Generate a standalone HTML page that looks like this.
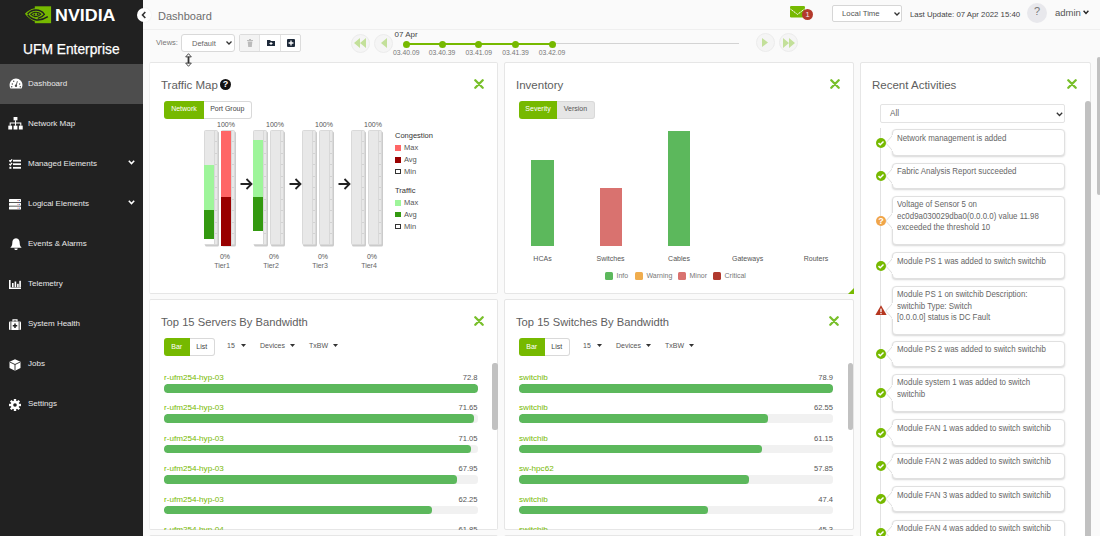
<!DOCTYPE html>
<html><head><meta charset="utf-8">
<style>
*{box-sizing:border-box;margin:0;padding:0}
html,body{width:1100px;height:536px;overflow:hidden;background:#fafafa;font-family:"Liberation Sans",sans-serif;color:#333}
.a{position:absolute}
#side{left:0;top:0;width:143px;height:536px;background:#212121}
.nav{position:absolute;left:0;width:143px;height:40px;color:#e8e8e8;font-size:8px}
.nav .t{position:absolute;left:28px;top:15px;line-height:10px;white-space:nowrap}
.nav svg{position:absolute;left:9px;top:14.5px}
.nav .chev{position:absolute;left:128px;top:16px}
#hdr{left:143px;top:0;width:957px;height:30px;background:#fafafa;border-bottom:1px solid #efefef}
.panel{position:absolute;background:#fff;border:1px solid #e6e6e6;border-radius:2px;overflow:hidden}
.ptitle{position:absolute;left:11px;top:15px;font-size:11.5px;color:#555;white-space:nowrap;line-height:14px}
.close{position:absolute;top:16px}
.btng{position:absolute;height:18px;display:flex;font-size:7px}
.btng div{height:100%;display:flex;align-items:center;justify-content:center;background:#fff;border:1px solid #d9d9d9;border-left:none;border-radius:0 3px 3px 0}
.btng div.on{background:#76b900;color:#fff;border:none;border-radius:3px 0 0 3px}

.col{position:absolute;top:130px;width:14px;height:114.5px;background:#e8e8e8;border:1px solid #d9d9d9;border-radius:1.5px;box-shadow:1px 1.5px 0 #cbcbcb}
.col .dv{position:absolute;left:9px;top:0;width:1px;height:100%;background:#d8d8d8}
.col .tk{position:absolute;left:10px;width:2px;height:1px;background:#d2d2d2}
.col .f{position:absolute;left:-1px;width:9.8px}
.pct{position:absolute;font-size:7px;color:#555;line-height:8px;width:30px;text-align:center}
.leg{position:absolute;left:395px;font-size:7.5px;color:#555;line-height:9px;white-space:nowrap}
.sw{position:absolute;left:395px;width:6px;height:5.5px}

.card{position:absolute;left:891.5px;width:173px;background:#fff;border:1px solid #e0e0e0;border-radius:4px;box-shadow:0 1px 2px rgba(0,0,0,0.16);font-size:8.5px;color:#666;line-height:11.6px;padding:2.5px 4px 10.3px 4.2px;white-space:nowrap}
.card span{display:block;transform:scaleX(0.93);transform-origin:0 0}
.ic{position:absolute;left:876px;width:10px;height:10px}

.bname{position:absolute;font-size:8.1px;color:#76b900;line-height:9px;white-space:nowrap}
.bval{position:absolute;font-size:7.6px;color:#555;line-height:9px;text-align:right;width:60px}
.track{position:absolute;height:8.5px;border-radius:3.5px;background:#f1f1f1;overflow:hidden}
.track div{position:absolute;left:0;top:0;height:100%;border-radius:3.5px;background:#5cb85c}
.dd{position:absolute;top:341px;font-size:7px;color:#555;line-height:9px;white-space:nowrap}
.dd svg{position:absolute;top:3px}
</style></head><body>
<div id="side" class="a">
<svg class="a" style="left:24px;top:5.5px" width="28" height="18" viewBox="0 0 28 18">
 <rect x="10.8" y="0.3" width="16.3" height="16.9" fill="#76b900"/>
 <path d="M10.8,2.2 C6.5,3 3,5.2 0.9,7.8 C3,10.6 6.5,14 10.8,15.6 Z" fill="#76b900"/>
 <path d="M3.6,8 C5.8,5.4 8.8,4 12,4 C15.6,4 18.6,5.8 20.4,8.3 C18.8,10.4 16.6,11.7 13.8,12.4" stroke="#212121" stroke-width="1.3" fill="none"/>
 <path d="M3.8,8.7 C5.8,11.4 8.8,13.4 12.5,13.9 C16.2,14.3 20.2,13 23.8,10.6" stroke="#212121" stroke-width="1.5" fill="none"/>
 <path d="M6.8,8.4 C8.2,6.9 10,6.2 12,6.2 C14,6.2 15.8,7.1 16.8,8.2 C15.5,9.7 13.8,10.5 12,10.6 C10,10.7 8.2,9.8 6.8,8.4 Z" stroke="#212121" stroke-width="1.1" fill="none"/>
 <path d="M9.2,8.6 L11.2,7.6 L11.2,9.8 Z" fill="#212121"/>
 <circle cx="13.6" cy="8.2" r="0.9" fill="#212121"/>
</svg>
<div class="a" style="left:55px;top:7px;font-size:15.8px;font-weight:bold;color:#fff;line-height:18px;transform:scaleX(1.13);transform-origin:left top">NVIDIA</div>
<div class="a" style="left:23px;top:40.5px;font-size:13.8px;color:#fff;-webkit-text-stroke:0.25px #fff;line-height:17px;white-space:nowrap">UFM Enterprise</div>
<div class="a" style="left:0;top:64px;width:143px;height:40px;background:#4d4d4d"></div>
<div class="nav" style="top:64px"><svg width="14" height="11" viewBox="0 0 15 12" style="left:8.5px;top:13.5px"><path d="M7.5,0.5 C3.5,0.5 0.5,3.8 0.5,7.5 C0.5,9 0.9,10.3 1.5,11.5 L13.5,11.5 C14.1,10.3 14.5,9 14.5,7.5 C14.5,3.8 11.5,0.5 7.5,0.5 Z" fill="#fff"/><circle cx="7.5" cy="8.5" r="1.3" fill="#4d4d4d"/><path d="M7.5,8.5 L9,3.5" stroke="#4d4d4d" stroke-width="1"/><circle cx="3.5" cy="6.5" r="0.8" fill="#4d4d4d"/><circle cx="11.5" cy="6.5" r="0.8" fill="#4d4d4d"/><circle cx="5" cy="3.5" r="0.8" fill="#4d4d4d"/><circle cx="2.8" cy="9.5" r="0.8" fill="#4d4d4d"/><circle cx="12.2" cy="9.5" r="0.8" fill="#4d4d4d"/></svg><div class="t">Dashboard</div></div>
<div class="nav" style="top:104px"><svg width="15" height="12.5" viewBox="0 0 15 13" style="left:7.6px;top:13px"><rect x="5.5" y="0" width="4" height="3.5" fill="#fff"/><rect x="0" y="9" width="4" height="4" fill="#fff"/><rect x="5.5" y="9" width="4" height="4" fill="#fff"/><rect x="11" y="9" width="4" height="4" fill="#fff"/><path d="M7.5,3.5 V9 M2,9 V6.2 H13 V9" stroke="#fff" stroke-width="1.1" fill="none"/></svg><div class="t">Network Map</div></div>
<div class="nav" style="top:144px"><svg width="12" height="10" viewBox="0 0 12 10"><path d="M0.2,1.4 L1.3,2.5 L3.1,0.4" stroke="#fff" stroke-width="1.3" fill="none"/><path d="M0.2,4.9 L1.3,6 L3.1,3.9" stroke="#fff" stroke-width="1.3" fill="none"/><rect x="0.4" y="7.8" width="2" height="2" fill="#fff"/><rect x="4" y="0.8" width="8" height="1.8" fill="#fff"/><rect x="4" y="4.3" width="8" height="1.8" fill="#fff"/><rect x="4" y="7.9" width="8" height="1.8" fill="#fff"/></svg><div class="t">Managed Elements</div><svg class="chev" width="7" height="5" viewBox="0 0 7 5"><path d="M0.8,0.8 L3.5,3.6 L6.2,0.8" stroke="#fff" stroke-width="1.5" fill="none"/></svg></div>
<div class="nav" style="top:184px"><svg width="12" height="11" viewBox="0 0 12 11"><rect x="0" y="0" width="12" height="3" rx="0.6" fill="#fff"/><rect x="0" y="3.8" width="12" height="3" rx="0.6" fill="#fff"/><rect x="0" y="7.6" width="12" height="3" rx="0.6" fill="#fff"/><rect x="8.6" y="1.1" width="0.9" height="0.9" fill="#c33"/><rect x="10" y="1.1" width="0.9" height="0.9" fill="#36c"/><rect x="8.6" y="4.9" width="0.9" height="0.9" fill="#c33"/><rect x="10" y="4.9" width="0.9" height="0.9" fill="#36c"/><rect x="8.6" y="8.7" width="0.9" height="0.9" fill="#c33"/><rect x="10" y="8.7" width="0.9" height="0.9" fill="#36c"/></svg><div class="t">Logical Elements</div><svg class="chev" width="7" height="5" viewBox="0 0 7 5"><path d="M0.8,0.8 L3.5,3.6 L6.2,0.8" stroke="#fff" stroke-width="1.5" fill="none"/></svg></div>
<div class="nav" style="top:224px"><svg width="12" height="12" viewBox="0 0 12 12" style="left:9.5px;top:13.5px"><path d="M6,0.3 C3.2,0.6 2.3,2.6 2.3,5 C2.3,7.6 1.2,8.6 0.3,9.8 L11.7,9.8 C10.8,8.6 9.7,7.6 9.7,5 C9.7,2.6 8.8,0.6 6,0.3 Z" fill="#fff"/><path d="M4.3,10.4 A1.7,1.7 0 0 0 7.7,10.4 Z" fill="#fff"/></svg><div class="t">Events &amp; Alarms</div></div>
<div class="nav" style="top:264px"><svg width="12" height="9" viewBox="0 0 12 9" style="left:9px;top:15.5px"><path d="M0.8,0 V8.2 H12" stroke="#fff" stroke-width="1.6" fill="none"/><rect x="3" y="3" width="1.6" height="4.2" fill="#fff"/><rect x="5.6" y="1.5" width="1.6" height="5.7" fill="#fff"/><rect x="8.1" y="3.8" width="1.6" height="3.4" fill="#fff"/><rect x="10.3" y="0.8" width="1.6" height="6.4" fill="#fff"/></svg><div class="t">Telemetry</div></div>
<div class="nav" style="top:304px"><svg width="12" height="11" viewBox="0 0 12 11"><rect x="0" y="2.5" width="12" height="8.5" rx="1" fill="#fff"/><path d="M4,2.5 V0.8 H8 V2.5" stroke="#fff" stroke-width="1.2" fill="none"/><path d="M6,4.5 V9 M3.8,6.75 H8.2" stroke="#212121" stroke-width="1.5"/><rect x="1.5" y="2.5" width="0.8" height="8.5" fill="#212121"/><rect x="9.7" y="2.5" width="0.8" height="8.5" fill="#212121"/></svg><div class="t">System Health</div></div>
<div class="nav" style="top:344px"><svg width="12" height="12" viewBox="0 0 12 12"><path d="M6,0.3 L11.5,2.8 V9 L6,11.7 L0.5,9 V2.8 Z" fill="#fff"/><path d="M0.8,3 L6,5.5 L11.2,3 M6,5.5 V11.5" stroke="#212121" stroke-width="0.9" fill="none"/></svg><div class="t">Jobs</div></div>
<div class="nav" style="top:384px"><svg width="12" height="12" viewBox="0 0 12 12"><g fill="#fff"><circle cx="6" cy="6" r="4.2"/><rect x="4.8" y="0" width="2.4" height="12"/><rect x="0" y="4.8" width="12" height="2.4"/><rect x="4.8" y="0" width="2.4" height="12" transform="rotate(45 6 6)"/><rect x="4.8" y="0" width="2.4" height="12" transform="rotate(-45 6 6)"/></g><circle cx="6" cy="6" r="1.8" fill="#212121"/></svg><div class="t">Settings</div></div>
</div>
<div id="hdr" class="a">
<div class="a" style="left:15px;top:10px;font-size:11px;color:#6e6e6e;line-height:13px">Dashboard</div>
<svg class="a" style="left:647px;top:6px" width="16" height="12" viewBox="0 0 16 12"><rect x="0" y="0" width="15" height="11.5" rx="1.2" fill="#76b900"/><path d="M0.4,3 L7.5,8.4 L14.6,3" stroke="#fff" stroke-width="1" stroke-dasharray="1.6,0.5" fill="none"/></svg>
<div class="a" style="left:659px;top:9px;width:11px;height:11px;border-radius:50%;background:#b3392b;color:#f0e8f0;font-size:7.5px;line-height:11px;text-align:center">1</div>
<div class="a" style="left:689px;top:5px;width:70px;height:17px;background:#fff;border:1px solid #d6d6d6;border-radius:2px;font-size:7.8px;color:#555;line-height:15px;padding-left:9px">Local Time<svg style="position:absolute;left:61px;top:6px" width="6" height="4" viewBox="0 0 6 4"><path d="M0.5,0.5 L3,3 L5.5,0.5" stroke="#333" stroke-width="1.3" fill="none"/></svg></div>
<div class="a" style="left:767px;top:10px;font-size:7.8px;color:#444;line-height:10px;white-space:nowrap">Last Update: 07 Apr 2022 15:40</div>
<div class="a" style="left:884px;top:3px;width:20px;height:20px;border-radius:50%;background:#e8e8ec;color:#777;font-size:11px;line-height:17px;text-align:center">?</div>
<div class="a" style="left:912px;top:7px;font-size:9.5px;color:#555;line-height:11px">admin</div>
<svg class="a" style="left:939.5px;top:10px" width="6" height="5" viewBox="0 0 6 5"><path d="M0.6,0.8 L3,3.4 L5.4,0.8" stroke="#222" stroke-width="1.4" fill="none"/></svg>
</div>
<div class="a" style="left:137px;top:8px;width:14px;height:14px;border-radius:50%;background:#fff;box-shadow:0 0 2px rgba(0,0,0,0.08)"></div><svg class="a" style="left:140px;top:11px" width="8" height="8" viewBox="0 0 8 8"><path d="M5.3,1 L2.5,4 L5.3,7" stroke="#333" stroke-width="1.6" fill="none"/></svg>

<div class="a" style="left:156px;top:38px;font-size:7.5px;color:#777;line-height:9px">Views:</div>
<div class="a" style="left:181px;top:34px;width:54px;height:18px;background:#fff;border:1px solid #d9d9d9;border-radius:3px;font-size:7.5px;color:#666;line-height:18px;padding-left:10px">Default<svg style="position:absolute;left:44px;top:6.3px" width="6" height="4" viewBox="0 0 6 4"><path d="M0.5,0.5 L3,3 L5.5,0.5" stroke="#333" stroke-width="1.3" fill="none"/></svg></div>
<div class="a" style="left:239px;top:34px;width:62px;height:18px;border:1px solid #dcdcdc;border-radius:2px;background:#fff;overflow:hidden">
 <div class="a" style="left:0;top:0;width:20px;height:16px;background:#f3f3f3;border-right:1px solid #e2e2e2"></div>
 <div class="a" style="left:20px;top:0;width:21px;height:16px;border-right:1px solid #e2e2e2"></div>
 <svg class="a" style="left:7px;top:4px" width="6" height="8" viewBox="0 0 6 8"><rect x="0" y="1" width="6" height="1" fill="#bbb"/><rect x="2" y="0" width="2" height="1" fill="#bbb"/><path d="M0.7,2.4 H5.3 L4.8,8 H1.2 Z" fill="#bbb"/></svg>
 <svg class="a" style="left:27px;top:5px" width="8" height="6" viewBox="0 0 8 6"><path d="M0,0 H3 L4,1 H8 V6 H0 Z" fill="#1e2a3a"/><path d="M4,2 V5 M2.5,3.5 H5.5" stroke="#fff" stroke-width="1"/></svg>
 <svg class="a" style="left:47px;top:4px" width="8" height="8" viewBox="0 0 8 8"><rect x="0" y="0" width="8" height="8" rx="1" fill="#1e2a3a"/><path d="M4,1.6 V6.4 M1.6,4 H6.4" stroke="#fff" stroke-width="1.3"/></svg>
</div>
<svg class="a" style="left:184.5px;top:52.5px;z-index:20" width="7" height="14" viewBox="0 0 7 14"><path d="M3.5,0.7 L6.3,3.9 H0.7 Z" fill="#fff" stroke="#222" stroke-width="0.8" stroke-linejoin="round"/><path d="M3.5,13.3 L6.3,10.1 H0.7 Z" fill="#fff" stroke="#222" stroke-width="0.8" stroke-linejoin="round"/><rect x="2.6" y="3.6" width="1.8" height="6.8" fill="#333"/></svg>
<!-- timeline -->
<div class="a" style="left:351px;top:33.5px;width:19px;height:19px;border-radius:50%;border:1px solid #ececec;background:#f5f5f5"></div>
<svg class="a" style="left:354px;top:38px" width="13" height="10" viewBox="0 0 13 10"><path d="M0,5 L6,0 V10 Z M6,5 L12,0 V10 Z" fill="#c3e09a"/></svg>
<div class="a" style="left:374px;top:33.5px;width:19px;height:19px;border-radius:50%;border:1px solid #ececec;background:#f5f5f5"></div>
<svg class="a" style="left:381px;top:38px" width="6" height="10" viewBox="0 0 6 10"><path d="M0,5 L6,0 V10 Z" fill="#c3e09a"/></svg>
<div class="a" style="left:552px;top:42.5px;width:187px;height:1.5px;background:#d3d3d3"></div>
<div class="a" style="left:406px;top:42.5px;width:146px;height:2px;background:#76b900"></div>
<div class="a" style="left:755.5px;top:32.5px;width:19px;height:19px;border-radius:50%;border:1px solid #ececec;background:#f5f5f5"></div>
<svg class="a" style="left:762px;top:38px" width="6" height="9" viewBox="0 0 6 9"><path d="M6,4.5 L0,0 V9 Z" fill="#c3e09a"/></svg>
<div class="a" style="left:778.5px;top:32.5px;width:19px;height:19px;border-radius:50%;border:1px solid #ececec;background:#f5f5f5"></div>
<svg class="a" style="left:783px;top:38px" width="12" height="10" viewBox="0 0 12 10"><path d="M6,5 L0,0 V10 Z M12,5 L6,0 V10 Z" fill="#c3e09a"/></svg>
<div class="a" style="left:394.5px;top:30px;font-size:8px;color:#444;line-height:10px">07 Apr</div>
<div class="a" style="left:402.8px;top:40.7px;width:7px;height:7px;border-radius:50%;background:#76b900"></div>
<div class="a" style="left:386.3px;top:48px;width:40px;text-align:center;font-size:6.8px;color:#777;line-height:9px">03.40.09</div>
<div class="a" style="left:438.5px;top:40.7px;width:7px;height:7px;border-radius:50%;background:#76b900"></div>
<div class="a" style="left:422px;top:48px;width:40px;text-align:center;font-size:6.8px;color:#777;line-height:9px">03.40.39</div>
<div class="a" style="left:475.3px;top:40.7px;width:7px;height:7px;border-radius:50%;background:#76b900"></div>
<div class="a" style="left:458.8px;top:48px;width:40px;text-align:center;font-size:6.8px;color:#777;line-height:9px">03.41.09</div>
<div class="a" style="left:512.0px;top:40.7px;width:7px;height:7px;border-radius:50%;background:#76b900"></div>
<div class="a" style="left:495.5px;top:48px;width:40px;text-align:center;font-size:6.8px;color:#777;line-height:9px">03.41.39</div>
<div class="a" style="left:548.5px;top:40.7px;width:7px;height:7px;border-radius:50%;background:#76b900"></div>
<div class="a" style="left:532px;top:48px;width:40px;text-align:center;font-size:6.8px;color:#777;line-height:9px">03.42.09</div>

<div class="panel" style="left:149px;top:62px;width:349px;height:232px;border-left-color:#f0f0f0"></div>
<div class="a" style="left:161px;top:78px;font-size:11.5px;color:#5e5e5e;line-height:14px;white-space:nowrap">Traffic Map</div>
<div class="a" style="left:220px;top:79px;width:11px;height:11px;border-radius:50%;background:#111;color:#fff;font-size:9px;font-weight:bold;line-height:11px;text-align:center">?</div>
<svg class="a" style="left:474px;top:79px" width="10" height="10" viewBox="0 0 10 10"><path d="M1.3,1.3 L8.7,8.7 M8.7,1.3 L1.3,8.7" stroke="#78bf2a" stroke-width="2.3" stroke-linecap="round"/></svg>
<div class="btng" style="left:164px;top:101px;width:88px;height:18px"><div class="on" style="width:40px;padding-bottom:3px">Network</div><div style="width:47.5px;color:#444;padding-bottom:3px">Port Group</div></div>
<div class="col" style="left:204px"><div class="dv"></div><div class="tk" style="top:10.45px"></div><div class="tk" style="top:21.90px"></div><div class="tk" style="top:33.35px"></div><div class="tk" style="top:44.80px"></div><div class="tk" style="top:56.25px"></div><div class="tk" style="top:67.70px"></div><div class="tk" style="top:79.15px"></div><div class="tk" style="top:90.60px"></div><div class="tk" style="top:102.05px"></div><div class="f" style="top:34px;height:45px;background:#9ef59a"></div><div class="f" style="top:79px;height:29px;background:#339910"></div><div class="f" style="top:108px;height:5px;background:#fff"></div></div>
<div class="col" style="left:221px"><div class="dv"></div><div class="tk" style="top:10.45px"></div><div class="tk" style="top:21.90px"></div><div class="tk" style="top:33.35px"></div><div class="tk" style="top:44.80px"></div><div class="tk" style="top:56.25px"></div><div class="tk" style="top:67.70px"></div><div class="tk" style="top:79.15px"></div><div class="tk" style="top:90.60px"></div><div class="tk" style="top:102.05px"></div><div class="f" style="top:0px;height:66px;background:#ff6666"></div><div class="f" style="top:66px;height:49px;background:#990000"></div></div>
<div class="col" style="left:253px"><div class="dv"></div><div class="tk" style="top:10.45px"></div><div class="tk" style="top:21.90px"></div><div class="tk" style="top:33.35px"></div><div class="tk" style="top:44.80px"></div><div class="tk" style="top:56.25px"></div><div class="tk" style="top:67.70px"></div><div class="tk" style="top:79.15px"></div><div class="tk" style="top:90.60px"></div><div class="tk" style="top:102.05px"></div><div class="f" style="top:9px;height:57px;background:#9ef59a"></div><div class="f" style="top:66px;height:34px;background:#339910"></div><div class="f" style="top:100px;height:13px;background:#fff"></div></div>
<div class="col" style="left:270px"><div class="dv"></div><div class="tk" style="top:10.45px"></div><div class="tk" style="top:21.90px"></div><div class="tk" style="top:33.35px"></div><div class="tk" style="top:44.80px"></div><div class="tk" style="top:56.25px"></div><div class="tk" style="top:67.70px"></div><div class="tk" style="top:79.15px"></div><div class="tk" style="top:90.60px"></div><div class="tk" style="top:102.05px"></div></div>
<div class="col" style="left:302px"><div class="dv"></div><div class="tk" style="top:10.45px"></div><div class="tk" style="top:21.90px"></div><div class="tk" style="top:33.35px"></div><div class="tk" style="top:44.80px"></div><div class="tk" style="top:56.25px"></div><div class="tk" style="top:67.70px"></div><div class="tk" style="top:79.15px"></div><div class="tk" style="top:90.60px"></div><div class="tk" style="top:102.05px"></div></div><div class="col" style="left:319px"><div class="dv"></div><div class="tk" style="top:10.45px"></div><div class="tk" style="top:21.90px"></div><div class="tk" style="top:33.35px"></div><div class="tk" style="top:44.80px"></div><div class="tk" style="top:56.25px"></div><div class="tk" style="top:67.70px"></div><div class="tk" style="top:79.15px"></div><div class="tk" style="top:90.60px"></div><div class="tk" style="top:102.05px"></div></div>
<div class="col" style="left:351px"><div class="dv"></div><div class="tk" style="top:10.45px"></div><div class="tk" style="top:21.90px"></div><div class="tk" style="top:33.35px"></div><div class="tk" style="top:44.80px"></div><div class="tk" style="top:56.25px"></div><div class="tk" style="top:67.70px"></div><div class="tk" style="top:79.15px"></div><div class="tk" style="top:90.60px"></div><div class="tk" style="top:102.05px"></div></div><div class="col" style="left:368px"><div class="dv"></div><div class="tk" style="top:10.45px"></div><div class="tk" style="top:21.90px"></div><div class="tk" style="top:33.35px"></div><div class="tk" style="top:44.80px"></div><div class="tk" style="top:56.25px"></div><div class="tk" style="top:67.70px"></div><div class="tk" style="top:79.15px"></div><div class="tk" style="top:90.60px"></div><div class="tk" style="top:102.05px"></div></div>
<div class="pct" style="left:211px;top:121px">100%</div><div class="pct" style="left:210px;top:253px">0%</div><div class="pct" style="left:207px;top:262px;color:#666">Tier1</div>
<div class="pct" style="left:260px;top:121px">100%</div><div class="pct" style="left:259px;top:253px">0%</div><div class="pct" style="left:256px;top:262px;color:#666">Tier2</div>
<div class="pct" style="left:309px;top:121px">100%</div><div class="pct" style="left:308px;top:253px">0%</div><div class="pct" style="left:305px;top:262px;color:#666">Tier3</div>
<div class="pct" style="left:358px;top:121px">100%</div><div class="pct" style="left:357px;top:253px">0%</div><div class="pct" style="left:354px;top:262px;color:#666">Tier4</div>
<svg class="a" style="left:240px;top:178px" width="13" height="12" viewBox="0 0 13 12"><path d="M0.5,6 H11.5 M6.5,1 L11.5,6 L6.5,11" stroke="#222" stroke-width="1.8" fill="none"/></svg>
<svg class="a" style="left:289px;top:178px" width="13" height="12" viewBox="0 0 13 12"><path d="M0.5,6 H11.5 M6.5,1 L11.5,6 L6.5,11" stroke="#222" stroke-width="1.8" fill="none"/></svg>
<svg class="a" style="left:338px;top:178px" width="13" height="12" viewBox="0 0 13 12"><path d="M0.5,6 H11.5 M6.5,1 L11.5,6 L6.5,11" stroke="#222" stroke-width="1.8" fill="none"/></svg>
<div class="leg" style="top:131px;color:#333">Congestion</div>
<div class="sw" style="top:145px;background:#ff6666"></div><div class="leg" style="left:404px;top:143px">Max</div>
<div class="sw" style="top:157px;background:#990000"></div><div class="leg" style="left:404px;top:155px">Avg</div>
<div class="sw" style="top:168.5px;border:1px solid #333;background:#fff"></div><div class="leg" style="left:404px;top:167px">Min</div>
<div class="leg" style="top:186px;color:#333">Traffic</div>
<div class="sw" style="top:200px;background:#9ef59a"></div><div class="leg" style="left:404px;top:198px">Max</div>
<div class="sw" style="top:211.5px;background:#339910"></div><div class="leg" style="left:404px;top:210px">Avg</div>
<div class="sw" style="top:223.5px;border:1px solid #333;background:#fff"></div><div class="leg" style="left:404px;top:222px">Min</div>
<div class="panel" style="left:504px;top:62px;width:350px;height:232px"></div>
<div class="a" style="left:516px;top:78px;font-size:11.5px;color:#5e5e5e;line-height:14px;white-space:nowrap">Inventory</div>
<svg class="a" style="left:830px;top:79px" width="10" height="10" viewBox="0 0 10 10"><path d="M1.3,1.3 L8.7,8.7 M8.7,1.3 L1.3,8.7" stroke="#78bf2a" stroke-width="2.3" stroke-linecap="round"/></svg>
<div class="btng" style="left:519px;top:101px;width:76px;height:18px;border-color:#c9c9c9"><div class="on" style="width:38px;padding-bottom:3px">Severity</div><div style="width:38px;color:#555;background:#e6e6e6;padding-bottom:3px">Version</div></div>
<div class="a" style="left:531px;top:159.5px;width:23px;height:86.5px;background:#5cb85c"></div>
<div class="a" style="left:600px;top:188px;width:22px;height:58px;background:#d9726f"></div>
<div class="a" style="left:668px;top:130.5px;width:22px;height:115.5px;background:#5cb85c"></div>
<div class="a" style="left:512.5px;top:254px;width:60px;text-align:center;font-size:7px;color:#555;line-height:9px">HCAs</div>
<div class="a" style="left:580.6px;top:254px;width:60px;text-align:center;font-size:7px;color:#555;line-height:9px">Switches</div>
<div class="a" style="left:649px;top:254px;width:60px;text-align:center;font-size:7px;color:#555;line-height:9px">Cables</div>
<div class="a" style="left:717.6px;top:254px;width:60px;text-align:center;font-size:7px;color:#555;line-height:9px">Gateways</div>
<div class="a" style="left:786px;top:254px;width:60px;text-align:center;font-size:7px;color:#555;line-height:9px">Routers</div>
<div class="a" style="left:605px;top:272px;width:8px;height:8px;border-radius:1.5px;background:#5cb85c"></div><div class="a" style="left:616.5px;top:271px;font-size:7px;color:#777;line-height:9px">Info</div>
<div class="a" style="left:635px;top:272px;width:8px;height:8px;border-radius:1.5px;background:#f0ad4e"></div><div class="a" style="left:646.5px;top:271px;font-size:7px;color:#777;line-height:9px">Warning</div>
<div class="a" style="left:678px;top:272px;width:8px;height:8px;border-radius:1.5px;background:#d9726f"></div><div class="a" style="left:689.5px;top:271px;font-size:7px;color:#777;line-height:9px">Minor</div>
<div class="a" style="left:713px;top:272px;width:8px;height:8px;border-radius:1.5px;background:#b0392e"></div><div class="a" style="left:724.5px;top:271px;font-size:7px;color:#777;line-height:9px">Critical</div>
<svg class="a" style="left:848px;top:288px" width="6" height="6" viewBox="0 0 6 6"><path d="M6,0 V6 H0 Z" fill="#76b900"/></svg>
<div class="panel" style="left:860px;top:62px;width:231px;height:480px"></div>
<div class="a" style="left:872px;top:78px;font-size:11.5px;color:#5e5e5e;line-height:14px;white-space:nowrap">Recent Activities</div>
<svg class="a" style="left:1066.5px;top:79px" width="10" height="10" viewBox="0 0 10 10"><path d="M1.3,1.3 L8.7,8.7 M8.7,1.3 L1.3,8.7" stroke="#78bf2a" stroke-width="2.3" stroke-linecap="round"/></svg>
<div class="a" style="left:880px;top:104px;width:185px;height:19px;border:1px solid #e3e3e3;border-radius:2px;background:#fff;font-size:8.2px;color:#666;line-height:17px;padding-left:9px">All<svg style="position:absolute;left:174.5px;top:6.5px" width="7" height="5" viewBox="0 0 7 5"><path d="M0.8,0.8 L3.5,3.5 L6.2,0.8" stroke="#333" stroke-width="1.3" fill="none"/></svg></div>
<div class="a" style="left:880px;top:128px;width:1px;height:410px;background:#e2e2e2"></div>
<div class="a" style="left:1084.5px;top:101px;width:6px;height:440px;border-radius:3px;background:#c1c1c1"></div>
<div class="a" style="left:1097px;top:57px;width:4px;height:138px;border-radius:2px;background:#c1c1c1"></div>
<div class="card" style="top:129.2px"><span>Network management is added</span></div>
<svg class="a" style="left:884px;top:133.5px" width="9" height="18" viewBox="0 0 9 18"><path d="M8.5,1.5 L1.8,9 L8.5,16.5" fill="#fff" stroke="#dadada" stroke-width="0.9"/><rect x="8" y="1" width="1" height="16" fill="#fff"/></svg>
<svg class="ic" style="top:137.5px" viewBox="0 0 10 10"><circle cx="5" cy="5" r="5" fill="#76b900"/><path d="M2.5,5.1 L4.2,6.8 L7.5,3.5" stroke="#fff" stroke-width="1.5" fill="none"/></svg>
<div class="card" style="top:162.5px"><span>Fabric Analysis Report succeeded</span></div>
<svg class="a" style="left:884px;top:166.8px" width="9" height="18" viewBox="0 0 9 18"><path d="M8.5,1.5 L1.8,9 L8.5,16.5" fill="#fff" stroke="#dadada" stroke-width="0.9"/><rect x="8" y="1" width="1" height="16" fill="#fff"/></svg>
<svg class="ic" style="top:170.8px" viewBox="0 0 10 10"><circle cx="5" cy="5" r="5" fill="#76b900"/><path d="M2.5,5.1 L4.2,6.8 L7.5,3.5" stroke="#fff" stroke-width="1.5" fill="none"/></svg>
<div class="card" style="top:195.5px"><span>Voltage of Sensor 5 on<br>ec0d9a030029dba0(0.0.0.0) value 11.98<br>exceeded the threshold 10</span></div>
<svg class="a" style="left:884px;top:211.6px" width="9" height="18" viewBox="0 0 9 18"><path d="M8.5,1.5 L1.8,9 L8.5,16.5" fill="#fff" stroke="#dadada" stroke-width="0.9"/><rect x="8" y="1" width="1" height="16" fill="#fff"/></svg>
<svg class="ic" style="top:215.6px" viewBox="0 0 10 10"><circle cx="5" cy="5" r="5" fill="#f0a54a"/><text x="5" y="8.4" text-anchor="middle" font-size="9" font-weight="bold" fill="#fff" font-family="Liberation Sans">?</text></svg>
<div class="card" style="top:252.3px"><span>Module PS 1 was added to switch switchib</span></div>
<svg class="a" style="left:884px;top:256.6px" width="9" height="18" viewBox="0 0 9 18"><path d="M8.5,1.5 L1.8,9 L8.5,16.5" fill="#fff" stroke="#dadada" stroke-width="0.9"/><rect x="8" y="1" width="1" height="16" fill="#fff"/></svg>
<svg class="ic" style="top:260.6px" viewBox="0 0 10 10"><circle cx="5" cy="5" r="5" fill="#76b900"/><path d="M2.5,5.1 L4.2,6.8 L7.5,3.5" stroke="#fff" stroke-width="1.5" fill="none"/></svg>
<div class="card" style="top:285.6px"><span>Module PS 1 on switchib Description:<br>switchib Type: Switch<br>[0.0.0.0] status is DC Fault</span></div>
<svg class="a" style="left:884px;top:301.7px" width="9" height="18" viewBox="0 0 9 18"><path d="M8.5,1.5 L1.8,9 L8.5,16.5" fill="#fff" stroke="#dadada" stroke-width="0.9"/><rect x="8" y="1" width="1" height="16" fill="#fff"/></svg>
<svg class="a" style="left:875.3px;top:304.6px" width="12" height="10.5" viewBox="0 0 12 10.5"><path d="M6,0.3 L11.8,10.3 H0.2 Z" fill="#b5361f"/><rect x="5.35" y="3.6" width="1.3" height="3.6" fill="#fff"/><rect x="5.35" y="8" width="1.3" height="1.2" fill="#fff"/></svg>
<div class="card" style="top:340.5px"><span>Module PS 2 was added to switch switchib</span></div>
<svg class="a" style="left:884px;top:344.8px" width="9" height="18" viewBox="0 0 9 18"><path d="M8.5,1.5 L1.8,9 L8.5,16.5" fill="#fff" stroke="#dadada" stroke-width="0.9"/><rect x="8" y="1" width="1" height="16" fill="#fff"/></svg>
<svg class="ic" style="top:348.8px" viewBox="0 0 10 10"><circle cx="5" cy="5" r="5" fill="#76b900"/><path d="M2.5,5.1 L4.2,6.8 L7.5,3.5" stroke="#fff" stroke-width="1.5" fill="none"/></svg>
<div class="card" style="top:373.8px"><span>Module system 1 was added to switch<br>switchib</span></div>
<svg class="a" style="left:884px;top:384.0px" width="9" height="18" viewBox="0 0 9 18"><path d="M8.5,1.5 L1.8,9 L8.5,16.5" fill="#fff" stroke="#dadada" stroke-width="0.9"/><rect x="8" y="1" width="1" height="16" fill="#fff"/></svg>
<svg class="ic" style="top:388.0px" viewBox="0 0 10 10"><circle cx="5" cy="5" r="5" fill="#76b900"/><path d="M2.5,5.1 L4.2,6.8 L7.5,3.5" stroke="#fff" stroke-width="1.5" fill="none"/></svg>
<div class="card" style="top:419.2px"><span>Module FAN 1 was added to switch switchib</span></div>
<svg class="a" style="left:884px;top:423.5px" width="9" height="18" viewBox="0 0 9 18"><path d="M8.5,1.5 L1.8,9 L8.5,16.5" fill="#fff" stroke="#dadada" stroke-width="0.9"/><rect x="8" y="1" width="1" height="16" fill="#fff"/></svg>
<svg class="ic" style="top:427.5px" viewBox="0 0 10 10"><circle cx="5" cy="5" r="5" fill="#76b900"/><path d="M2.5,5.1 L4.2,6.8 L7.5,3.5" stroke="#fff" stroke-width="1.5" fill="none"/></svg>
<div class="card" style="top:452.5px"><span>Module FAN 2 was added to switch switchib</span></div>
<svg class="a" style="left:884px;top:456.8px" width="9" height="18" viewBox="0 0 9 18"><path d="M8.5,1.5 L1.8,9 L8.5,16.5" fill="#fff" stroke="#dadada" stroke-width="0.9"/><rect x="8" y="1" width="1" height="16" fill="#fff"/></svg>
<svg class="ic" style="top:460.8px" viewBox="0 0 10 10"><circle cx="5" cy="5" r="5" fill="#76b900"/><path d="M2.5,5.1 L4.2,6.8 L7.5,3.5" stroke="#fff" stroke-width="1.5" fill="none"/></svg>
<div class="card" style="top:486px"><span>Module FAN 3 was added to switch switchib</span></div>
<svg class="a" style="left:884px;top:490.3px" width="9" height="18" viewBox="0 0 9 18"><path d="M8.5,1.5 L1.8,9 L8.5,16.5" fill="#fff" stroke="#dadada" stroke-width="0.9"/><rect x="8" y="1" width="1" height="16" fill="#fff"/></svg>
<svg class="ic" style="top:494.3px" viewBox="0 0 10 10"><circle cx="5" cy="5" r="5" fill="#76b900"/><path d="M2.5,5.1 L4.2,6.8 L7.5,3.5" stroke="#fff" stroke-width="1.5" fill="none"/></svg>
<div class="card" style="top:519.5px"><span>Module FAN 4 was added to switch switchib</span></div>
<svg class="a" style="left:884px;top:523.8px" width="9" height="18" viewBox="0 0 9 18"><path d="M8.5,1.5 L1.8,9 L8.5,16.5" fill="#fff" stroke="#dadada" stroke-width="0.9"/><rect x="8" y="1" width="1" height="16" fill="#fff"/></svg>
<svg class="ic" style="top:527.8px" viewBox="0 0 10 10"><circle cx="5" cy="5" r="5" fill="#76b900"/><path d="M2.5,5.1 L4.2,6.8 L7.5,3.5" stroke="#fff" stroke-width="1.5" fill="none"/></svg>
<div class="panel" style="left:149px;top:299px;width:349px;height:231px;border-left-color:#f0f0f0"></div>
<div class="a" style="left:161px;top:315px;font-size:11.2px;color:#5e5e5e;line-height:14px;white-space:nowrap">Top 15 Servers By Bandwidth</div>
<svg class="a" style="left:474px;top:316px" width="10" height="10" viewBox="0 0 10 10"><path d="M1.3,1.3 L8.7,8.7 M8.7,1.3 L1.3,8.7" stroke="#78bf2a" stroke-width="2.3" stroke-linecap="round"/></svg>
<div class="btng" style="left:164px;top:338px;width:51px;height:17.5px"><div class="on" style="width:25.5px">Bar</div><div style="width:25.5px;color:#444">List</div></div>
<div class="dd" style="left:227px">15<svg style="left:14px" width="5" height="3" viewBox="0 0 5 3"><path d="M0,0 H5 L2.5,3 Z" fill="#333"/></svg></div><div class="dd" style="left:260px">Devices<svg style="left:29.5px" width="5" height="3" viewBox="0 0 5 3"><path d="M0,0 H5 L2.5,3 Z" fill="#333"/></svg></div><div class="dd" style="left:309px">TxBW<svg style="left:23.5px" width="5" height="3" viewBox="0 0 5 3"><path d="M0,0 H5 L2.5,3 Z" fill="#333"/></svg></div>
<div class="a" style="left:150px;top:360px;width:347px;height:170px;overflow:hidden"><div class="bname" style="left:14px;top:13.0px">r-ufm254-hyp-03</div><div class="bval" style="left:267.5px;top:13.0px">72.8</div><div class="track" style="left:14px;top:24.0px;width:313.5px"><div style="width:313.5px"></div></div>
<div class="bname" style="left:14px;top:43.4px">r-ufm254-hyp-03</div><div class="bval" style="left:267.5px;top:43.4px">71.65</div><div class="track" style="left:14px;top:54.4px;width:313.5px"><div style="width:309.5px"></div></div>
<div class="bname" style="left:14px;top:73.8px">r-ufm254-hyp-03</div><div class="bval" style="left:267.5px;top:73.8px">71.05</div><div class="track" style="left:14px;top:84.8px;width:313.5px"><div style="width:306.5px"></div></div>
<div class="bname" style="left:14px;top:104.2px">r-ufm254-hyp-03</div><div class="bval" style="left:267.5px;top:104.2px">67.95</div><div class="track" style="left:14px;top:115.2px;width:313.5px"><div style="width:293px"></div></div>
<div class="bname" style="left:14px;top:134.6px">r-ufm254-hyp-03</div><div class="bval" style="left:267.5px;top:134.6px">62.25</div><div class="track" style="left:14px;top:145.6px;width:313.5px"><div style="width:268px"></div></div>
<div class="bname" style="left:14px;top:165.0px">r-ufm254-hyp-04</div><div class="bval" style="left:267.5px;top:165.0px">61.85</div><div class="track" style="left:14px;top:176.0px;width:313.5px"><div style="width:266px"></div></div>
</div>
<div class="a" style="left:492px;top:363px;width:5.5px;height:67px;border-radius:2.5px;background:#c1c1c1"></div>
<div class="panel" style="left:504px;top:299px;width:350px;height:231px"></div>
<div class="a" style="left:516px;top:315px;font-size:11.2px;color:#5e5e5e;line-height:14px;white-space:nowrap">Top 15 Switches By Bandwidth</div>
<svg class="a" style="left:829px;top:316px" width="10" height="10" viewBox="0 0 10 10"><path d="M1.3,1.3 L8.7,8.7 M8.7,1.3 L1.3,8.7" stroke="#78bf2a" stroke-width="2.3" stroke-linecap="round"/></svg>
<div class="btng" style="left:519px;top:338px;width:51px;height:17.5px"><div class="on" style="width:25.5px">Bar</div><div style="width:25.5px;color:#444">List</div></div>
<div class="dd" style="left:583px">15<svg style="left:14px" width="5" height="3" viewBox="0 0 5 3"><path d="M0,0 H5 L2.5,3 Z" fill="#333"/></svg></div><div class="dd" style="left:616px">Devices<svg style="left:29.5px" width="5" height="3" viewBox="0 0 5 3"><path d="M0,0 H5 L2.5,3 Z" fill="#333"/></svg></div><div class="dd" style="left:665px">TxBW<svg style="left:23.5px" width="5" height="3" viewBox="0 0 5 3"><path d="M0,0 H5 L2.5,3 Z" fill="#333"/></svg></div>
<div class="a" style="left:505px;top:360px;width:348px;height:170px;overflow:hidden"><div class="bname" style="left:14px;top:13.0px">switchib</div><div class="bval" style="left:268px;top:13.0px">78.9</div><div class="track" style="left:14px;top:24.0px;width:314px"><div style="width:314px"></div></div>
<div class="bname" style="left:14px;top:43.4px">switchib</div><div class="bval" style="left:268px;top:43.4px">62.55</div><div class="track" style="left:14px;top:54.4px;width:314px"><div style="width:249px"></div></div>
<div class="bname" style="left:14px;top:73.8px">switchib</div><div class="bval" style="left:268px;top:73.8px">61.15</div><div class="track" style="left:14px;top:84.8px;width:314px"><div style="width:243px"></div></div>
<div class="bname" style="left:14px;top:104.2px">sw-hpc62</div><div class="bval" style="left:268px;top:104.2px">57.85</div><div class="track" style="left:14px;top:115.2px;width:314px"><div style="width:230px"></div></div>
<div class="bname" style="left:14px;top:134.6px">switchib</div><div class="bval" style="left:268px;top:134.6px">47.4</div><div class="track" style="left:14px;top:145.6px;width:314px"><div style="width:189px"></div></div>
<div class="bname" style="left:14px;top:165.0px">switchib</div><div class="bval" style="left:268px;top:165.0px">45.3</div><div class="track" style="left:14px;top:176.0px;width:314px"><div style="width:181px"></div></div>
</div>
<div class="a" style="left:847.5px;top:363px;width:5px;height:66.5px;border-radius:2.5px;background:#c1c1c1"></div>
<div class="panel" style="left:149px;top:535px;width:349px;height:20px"></div><div class="panel" style="left:504px;top:535px;width:350px;height:20px"></div>

<!--PANELS-->
</body></html>
